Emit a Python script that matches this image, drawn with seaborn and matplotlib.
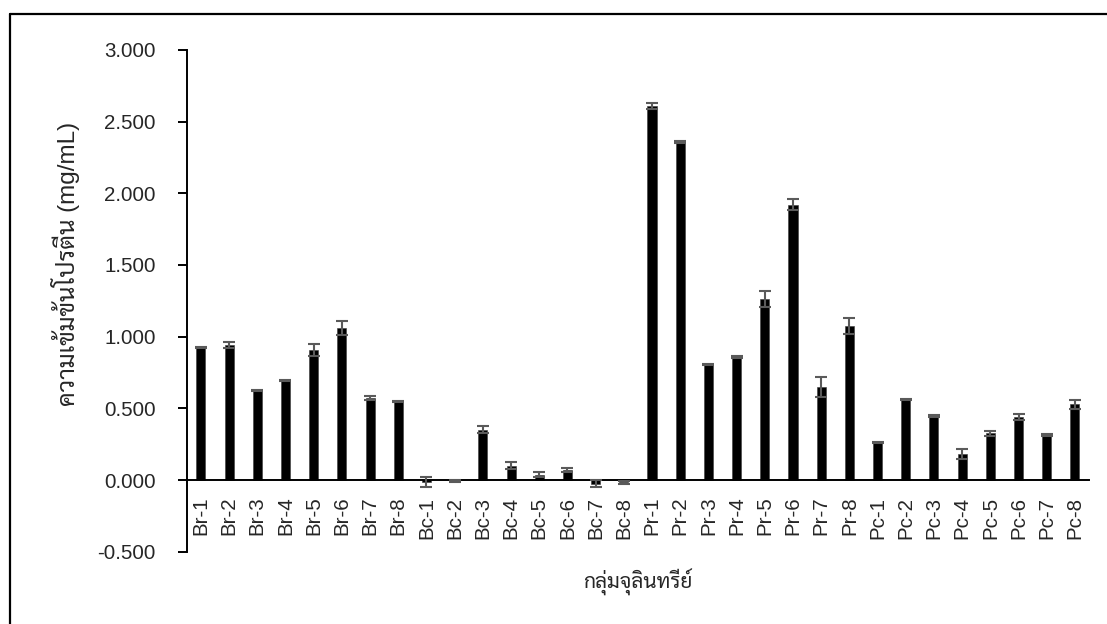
import matplotlib
matplotlib.use("Agg")
import numpy as np
import pandas as pd
import matplotlib.pyplot as plt
import seaborn as sns
from matplotlib import font_manager
from matplotlib.lines import Line2D

# Protein concentration (mg/mL) per microbial isolate, mean and error
br_names = ["Br-1", "Br-2", "Br-3", "Br-4", "Br-5", "Br-6", "Br-7", "Br-8"]
br_means = [0.923, 0.943, 0.625, 0.695, 0.908, 1.061, 0.572, 0.546]
br_errs = [0.003, 0.020, 0.003, 0.003, 0.041, 0.050, 0.016, 0.005]

bc_names = ["Bc-1", "Bc-2", "Bc-3", "Bc-4", "Bc-5", "Bc-6", "Bc-7", "Bc-8"]
bc_means = [-0.016, -0.007, 0.352, 0.100, 0.037, 0.068, -0.026, -0.017]
bc_errs = [0.035, 0.010, 0.027, 0.025, 0.018, 0.013, 0.025, 0.010]

pr_names = ["Pr-1", "Pr-2", "Pr-3", "Pr-4", "Pr-5", "Pr-6", "Pr-7", "Pr-8"]
pr_means = [2.606, 2.359, 0.807, 0.860, 1.261, 1.920, 0.651, 1.073]
pr_errs = [0.021, 0.005, 0.004, 0.006, 0.057, 0.037, 0.070, 0.055]

pc_names = ["Pc-1", "Pc-2", "Pc-3", "Pc-4", "Pc-5", "Pc-6", "Pc-7", "Pc-8"]
pc_means = [0.263, 0.563, 0.446, 0.179, 0.325, 0.439, 0.314, 0.527]
pc_errs = [0.004, 0.005, 0.008, 0.035, 0.016, 0.021, 0.006, 0.031]

y_ticks = [-0.5, 0.0, 0.5, 1.0, 1.5, 2.0, 2.5, 3.0]
x_title = "กลุ่มจุลินทรีย์"
y_title = "ความเข้มข้นโปรตีน (mg/mL)"

df = pd.DataFrame({
    "isolate": br_names + bc_names + pr_names + pc_names,
    "protein": br_means + bc_means + pr_means + pc_means,
    "err": br_errs + bc_errs + pr_errs + pc_errs,
})


def register_font(preferred, fallback="DejaVu Sans"):
    """Register the first installed font file matching one of the keys."""
    paths = sorted(font_manager.findSystemFonts())
    for key in preferred:
        for p in paths:
            if p.endswith("/" + key):
                font_manager.fontManager.addfont(p)
                return font_manager.FontProperties(fname=p).get_name()
    return fallback


sns.set_style("white")
thai = register_font(["Sarabun-Regular.ttf", "NotoSansThai-Regular.ttf", "Loma.otf"])
plt.rcParams["font.family"] = ["Liberation Sans", thai, "DejaVu Sans"]

fig = plt.figure(figsize=(11.07, 6.24), dpi=100)
ax = fig.add_axes([0.1687, 0.1159, 0.8151, 0.8040])

sns.barplot(data=df, x="isolate", y="protein", color="black", width=0.32,
            saturation=1, errorbar=None, ax=ax, edgecolor="#3a3a3a", linewidth=0.4)
ax.errorbar(np.arange(len(df)), df["protein"], yerr=df["err"], fmt="none",
            ecolor="#5a5a5a", elinewidth=1.5, capsize=4.3, capthick=1.5, zorder=5)

ax.set_xlim(-0.5, len(df) - 0.5)
ax.set_ylim(-0.5, 3.0)
ax.set_yticks(y_ticks)
ax.set_yticklabels([f"{v:.3f}" for v in y_ticks])

for side in ("top", "right"):
    ax.spines[side].set_visible(False)
ax.spines["bottom"].set_position(("data", 0))
for side in ("left", "bottom"):
    ax.spines[side].set_color("black")
    ax.spines[side].set_linewidth(1.4)

ax.tick_params(axis="y", direction="out", length=6.5, width=1.4, color="black",
               pad=16, labelsize=14.8, labelcolor="#262626", left=True)
ax.tick_params(axis="x", length=0, pad=12, labelsize=14.8, labelcolor="#262626",
               labelrotation=90)

ax.set_xlabel(x_title, fontsize=15, color="#262626")
ax.xaxis.set_label_coords(0.5, -0.062)
ax.xaxis.label.set_va("center")
ax.set_ylabel(y_title, fontsize=17.5, color="#262626")
ax.yaxis.set_label_coords(-0.134, 0.574)
ax.yaxis.label.set_va("center")

# outer frame around the figure
fx = 10 / 1107
fy = 1 - 14 / 624
fig.add_artist(Line2D([fx, fx], [-0.01, fy], transform=fig.transFigure,
                      color="black", linewidth=1.6))
fig.add_artist(Line2D([fx, 1.01], [fy, fy], transform=fig.transFigure,
                      color="black", linewidth=1.6))

fig.savefig("out.png", dpi=100)
